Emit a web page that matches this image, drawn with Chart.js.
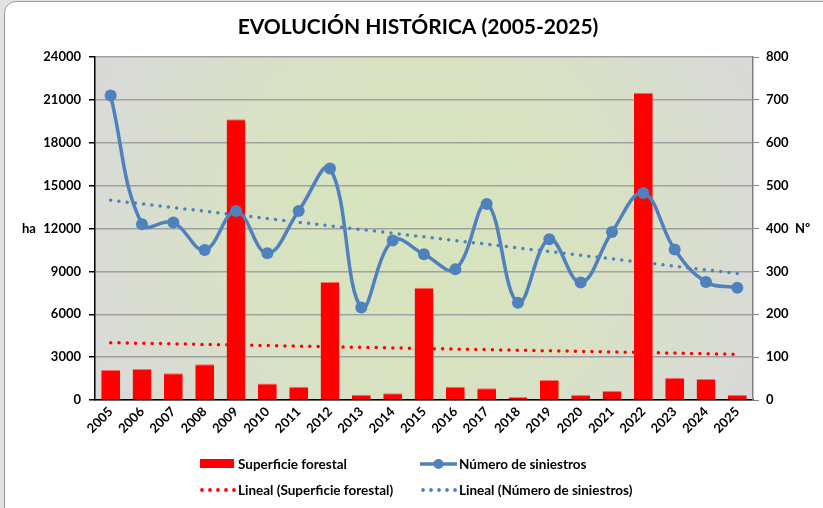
<!DOCTYPE html>
<html>
<head>
<meta charset="utf-8">
<script src="https://cdn.jsdelivr.net/npm/chart.js@4/dist/chart.umd.min.js"></script>
<style>
  html, body { margin: 0; padding: 0; }
  body { width: 823px; height: 508px; overflow: hidden; background: #e2e2e2; position: relative; font-family: Lato, "Open Sans", sans-serif; }
  #frame { position: absolute; left: 4px; top: 1px; width: 840px; height: 530px; background: #fff; border: 1.5px solid #9a9a9a; border-radius: 12px; box-sizing: border-box; }
  #c { position: absolute; left: 0; top: 0; }
  #legend { position: absolute; left: 0; top: 0; width: 823px; height: 508px; pointer-events: none; font-weight: 700; font-size: 13.5px; color: #000; }
  .item { position: absolute; display: flex; align-items: center; height: 16px; white-space: nowrap; }
  .item canvas { display: block; margin-right: 2px; }
</style>
</head>
<body>
<div id="frame"></div>
<canvas id="c" width="823" height="508"></canvas>
<div id="legend"></div>
<script>
const years = ['2005','2006','2007','2008','2009','2010','2011','2012','2013','2014','2015','2016','2017','2018','2019','2020','2021','2022','2023','2024','2025'];
const superficie = [2100, 2170, 1870, 2500, 19640, 1160, 930, 8250, 370, 470, 7850, 930, 820, 210, 1400, 350, 630, 21500, 1560, 1470, 370];
const siniestros = [710, 410, 414, 350, 441, 342, 441, 540, 216, 372, 340, 305, 457, 227, 375, 274, 392, 483, 351, 275, 262];
// Trend lines (Excel "Lineal") read at first and last year
const trendSuperficieEnds = [4010, 3200];
const trendSiniestrosEnds = [466, 295];
const leftTicks = [0, 3000, 6000, 9000, 12000, 15000, 18000, 21000, 24000];
const rightTicks = [0, 100, 200, 300, 400, 500, 600, 700, 800];

const labels = {
  title: 'EVOLUCIÓN HISTÓRICA (2005-2025)',
  left: 'ha',
  right: 'Nº',
  bars: 'Superficie forestal',
  line: 'Número de siniestros',
  trendBars: 'Lineal (Superficie forestal)',
  trendLine: 'Lineal (Número de siniestros)'
};

function endsToSeries(ends) {
  return years.map((y, i) => i === 0 ? ends[0] : (i === years.length - 1 ? ends[1] : null));
}

const FONT = 'Lato, "Open Sans", sans-serif';
const RED = '#ff0000';
const BLUE = '#4f81bd';

const bgPlugin = {
  id: 'bg',
  beforeDraw(chart) {
    const { ctx, chartArea: a } = chart;
    const cx = (a.left + a.right) / 2, cy = (a.top + a.bottom) / 2;
    const r = Math.hypot(a.right - a.left, a.bottom - a.top) / 2;
    const g = ctx.createRadialGradient(cx, cy, 0, cx, cy, r);
    g.addColorStop(0, '#d7e4bd');
    g.addColorStop(0.45, '#d8e2c2');
    g.addColorStop(1, '#d9d9d9');
    ctx.save();
    ctx.fillStyle = g;
    ctx.fillRect(a.left, a.top, a.right - a.left, a.bottom - a.top);
    ctx.restore();
  },
  afterDraw(chart) {
    const { ctx } = chart;
    const yl = chart.scales.y;
    ctx.save();
    ctx.fillStyle = '#000';
    ctx.font = '700 21px ' + FONT;
    ctx.textAlign = 'center';
    ctx.textBaseline = 'middle';
    ctx.fillText(labels.title, 418, 27);
    ctx.font = '700 13px ' + FONT;
    ctx.textAlign = 'left';
    const yy = yl.getPixelForValue(12000);
    ctx.fillText(labels.left, 22, yy);
    ctx.fillText(labels.right, 795, yy);
    ctx.restore();
  }
};

const tickFont = { family: FONT, weight: '700', size: 13 };

const chart = new Chart(document.getElementById('c'), {
  data: {
    labels: years,
    datasets: [
      {
        type: 'line', label: labels.line, data: siniestros, yAxisID: 'y1', order: 0,
        borderColor: BLUE, backgroundColor: BLUE, borderWidth: 3.5, tension: 0.4,
        pointRadius: 6, pointHoverRadius: 6, pointBackgroundColor: BLUE, pointBorderWidth: 0
      },
      {
        type: 'bar', label: labels.bars, data: superficie, yAxisID: 'y', order: 1,
        backgroundColor: RED, borderColor: '#ff6b6b', borderWidth: { top: 1, left: 0, right: 0, bottom: 0 },
        barPercentage: 0.6, categoryPercentage: 1
      },
      {
        type: 'line', label: labels.trendBars, data: endsToSeries(trendSuperficieEnds), yAxisID: 'y', order: 2,
        borderColor: RED, borderWidth: 3.5, borderDash: [0, 8.3], borderCapStyle: 'round',
        pointRadius: 0, spanGaps: true, tension: 0
      },
      {
        type: 'line', label: labels.trendLine, data: endsToSeries(trendSiniestrosEnds), yAxisID: 'y1', order: 2,
        borderColor: BLUE, borderWidth: 3.5, borderDash: [0, 8.3], borderCapStyle: 'round',
        pointRadius: 0, spanGaps: true, tension: 0
      }
    ]
  },
  options: {
    responsive: false,
    animation: false,
    layout: { padding: { top: 57, bottom: 60, left: 0, right: 0 } },
    plugins: { legend: { display: false }, title: { display: false }, tooltip: { enabled: false } },
    scales: {
      x: {
        offset: true,
        grid: { display: false, drawTicks: false },
        border: { display: true, color: '#000', width: 1.5 },
        ticks: { font: tickFont, color: '#000', maxRotation: 45, minRotation: 45, padding: 4, autoSkip: false },
        afterFit(s) { s.height = 48; }
      },
      y: {
        position: 'left', min: 0, max: 24000,
        afterBuildTicks(s) { s.ticks = leftTicks.map(v => ({ value: v })); },
        grid: { color: '#a0a0a0', lineWidth: 1.5, tickLength: 6, tickColor: '#000', drawTicks: true },
        border: { display: true, color: '#000', width: 1.5 },
        ticks: { font: tickFont, color: '#000', padding: 8, callback: v => String(v) },
        afterFit(s) { s.width = 95; }
      },
      y1: {
        position: 'right', min: 0, max: 800,
        afterBuildTicks(s) { s.ticks = rightTicks.map(v => ({ value: v })); },
        grid: { drawOnChartArea: false, tickLength: 6, tickColor: '#808080', drawTicks: true },
        border: { display: true, color: '#808080', width: 1.5 },
        ticks: { font: tickFont, color: '#000', padding: 7, callback: v => String(v) },
        afterFit(s) { s.width = 70; }
      }
    }
  },
  plugins: [bgPlugin]
});

// HTML legend
const legend = document.getElementById('legend');
function marker(kind, color) {
  const c = document.createElement('canvas');
  c.width = 37; c.height = 16;
  const g = c.getContext('2d');
  if (kind === 'box') {
    g.fillStyle = color; g.fillRect(1, 3, 34, 9);
  } else if (kind === 'line') {
    g.strokeStyle = color; g.lineWidth = 3.5; g.beginPath(); g.moveTo(0, 8); g.lineTo(37, 8); g.stroke();
    g.fillStyle = color; g.beginPath(); g.arc(18.5, 8, 5, 0, Math.PI * 2); g.fill();
  } else {
    g.fillStyle = color;
    for (let i = 0; i < 5; i++) { g.beginPath(); g.arc(3 + i * 8, 8, 1.9, 0, Math.PI * 2); g.fill(); }
  }
  return c;
}
function addItem(x, y, kind, color, text) {
  const d = document.createElement('div');
  d.className = 'item';
  d.style.left = x + 'px'; d.style.top = (y - 8) + 'px';
  d.appendChild(marker(kind, color));
  const s = document.createElement('span'); s.textContent = text; d.appendChild(s);
  legend.appendChild(d);
}
addItem(199, 464, 'box', RED, labels.bars);
addItem(420, 464, 'line', BLUE, labels.line);
addItem(199, 490, 'dots', RED, labels.trendBars);
addItem(420, 490, 'dots', BLUE, labels.trendLine);
</script>
</body>
</html>
